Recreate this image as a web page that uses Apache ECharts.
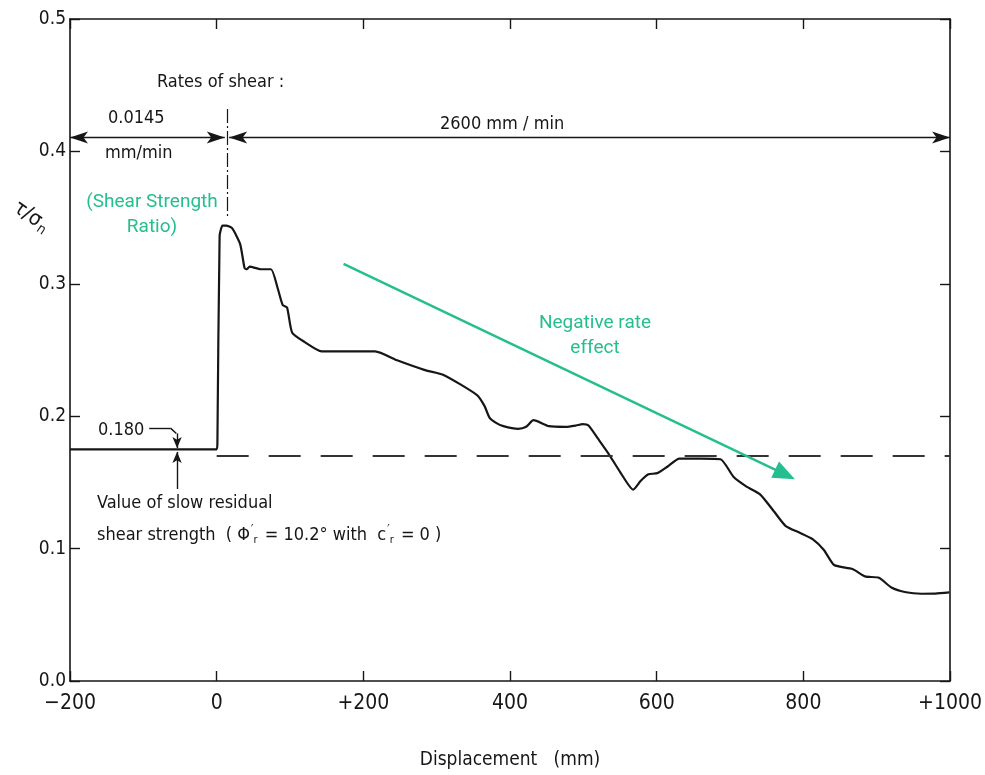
<!DOCTYPE html>
<html>
<head>
<meta charset="utf-8">
<script src="https://cdn.jsdelivr.net/npm/echarts@6/dist/echarts.min.js"></script>
<style>
  html, body { margin: 0; padding: 0; background: #fff; }
  #chart { width: 985px; height: 775px; }
</style>
</head>
<body>
<div id="chart"></div>
<script>
// displacement (mm) and shear strength ratio
const curveX = [-200, 0, 1, 4, 8, 13, 21, 32, 38, 41, 45, 60, 74, 83, 90, 96, 103, 120, 143, 180, 216, 247, 283, 310, 355, 365, 372, 381, 391, 411, 422, 432, 453, 476, 490, 499, 507, 520, 534, 550, 568, 578, 588, 601, 615, 631, 660, 687, 705, 722, 741, 760, 776, 795, 813, 828, 842, 867, 884, 903, 920, 940, 961, 980, 999];
const curveY = [0.175, 0.175, 0.18, 0.336, 0.344, 0.344, 0.342, 0.330, 0.312, 0.311, 0.313, 0.311, 0.311, 0.297, 0.284, 0.282, 0.263, 0.256, 0.249, 0.249, 0.249, 0.242, 0.235, 0.231, 0.216, 0.208, 0.199, 0.195, 0.1925, 0.1905, 0.192, 0.197, 0.1925, 0.192, 0.193, 0.194, 0.193, 0.183, 0.172, 0.158, 0.1445, 0.151, 0.156, 0.157, 0.162, 0.168, 0.168, 0.1675, 0.154, 0.147, 0.141, 0.128, 0.117, 0.112, 0.107, 0.099, 0.0876, 0.0846, 0.079, 0.078, 0.0706, 0.067, 0.0659, 0.066, 0.0669];

// slow residual strength, drawn dashed
const residualX = [0, 1000];
const residualY = [0.17, 0.17];

const xTickValues = [-200, 0, 200, 400, 600, 800, 1000];
const xTickLabels = ['\u2212200', '0', '+200', '400', '600', '800', '+1000'];
const yTickLabels = ['0.0', '0.1', '0.2', '0.3', '0.4', '0.5'];

const ink = '#161616';
const green = '#25BE8E';
const scanFont = "'Liberation Sans Narrow', 'DejaVu Sans Condensed', 'DejaVu Sans', sans-serif";
const greenFont = "Roboto, 'Noto Sans', sans-serif";

const chart = echarts.init(document.getElementById('chart'));

const axisBase = {
  type: 'value',
  axisLine: { show: true, onZero: false, lineStyle: { color: ink, width: 1.6 } },
  axisTick: { show: true, inside: true, length: 10, lineStyle: { color: ink, width: 1.4 } },
  splitLine: { show: false }
};

// thin annotation lines in data coordinates
const seg = (x1, y1, x2, y2, s1, s2, style, size) => [
  { coord: [x1, y1], symbol: s1, symbolSize: size, lineStyle: style },
  { coord: [x2, y2], symbol: s2, symbolSize: size }
];
const blackLine = { color: ink, width: 1.4, type: 'solid' };

const option = {
  animation: false,
  grid: { left: 70, right: 25, top: 19, bottom: 89 },
  xAxis: [
    Object.assign({}, axisBase, {
      min: -200, max: 1000, interval: 200,
      name: 'Displacement   (mm)',
      nameLocation: 'middle',
      nameGap: 70,
      nameTextStyle: { color: ink, fontSize: 19, fontFamily: scanFont },
      axisLabel: {
        color: ink, fontSize: 21, fontFamily: scanFont, margin: 12,
        formatter: v => xTickLabels[xTickValues.indexOf(v)] || ''
      }
    }),
    Object.assign({}, axisBase, {
      position: 'top', min: -200, max: 1000, interval: 200,
      axisLabel: { show: false }
    })
  ],
  yAxis: [
    Object.assign({}, axisBase, {
      min: 0, max: 0.5, interval: 0.1,
      axisLabel: {
        color: ink, fontSize: 19, fontFamily: scanFont, margin: 4,
        formatter: v => yTickLabels[Math.round(v * 10)]
      }
    }),
    Object.assign({}, axisBase, {
      position: 'right', min: 0, max: 0.5, interval: 0.1,
      axisLabel: { show: false }
    })
  ],
  series: [
    {
      type: 'line',
      data: curveX.map((x, i) => [x, curveY[i]]),
      showSymbol: false,
      smooth: 0.2,
      lineStyle: { color: ink, width: 2.2 },
      silent: true
    },
    {
      type: 'line',
      data: residualX.map((x, i) => [x, residualY[i]]),
      showSymbol: false,
      lineStyle: { color: '#333', width: 2, type: [32, 20] },
      silent: true
    },
    {
      type: 'line',
      data: [],
      silent: true,
      markLine: {
        silent: true,
        animation: false,
        label: { show: false },
        emphasis: { disabled: true },
        symbolSize: [9, 18],
        data: [
          seg(-200, 0.4105, 11, 0.4105, 'arrow', 'arrow', blackLine, [9, 18]),
          seg(17, 0.4105, 1000, 0.4105, 'arrow', 'arrow', blackLine, [9, 18]),
          seg(14, 0.432, 14, 0.351, 'none', 'none', { color: ink, width: 1.2, type: [14, 3, 2, 3] }, [9, 18]),
          seg(173, 0.315, 775, 0.156, 'none', 'triangle', { color: green, width: 2.4, type: 'solid' }, [18, 22]),
          seg(-92, 0.191, -63, 0.191, 'none', 'none', blackLine, [9, 18]),
          seg(-63, 0.191, -55, 0.187, 'none', 'none', blackLine, [9, 18]),
          seg(-54, 0.187, -54, 0.176, 'none', 'arrow', blackLine, [7, 11]),
          seg(-54, 0.145, -54, 0.173, 'none', 'arrow', blackLine, [7, 11])
        ]
      }
    }
  ],
  graphic: [
    { type: 'text', left: 157, top: 73, style: { text: 'Rates of shear :', fill: ink, font: '18px ' + scanFont } },
    { type: 'text', left: 108, top: 109, style: { text: '0.0145', fill: ink, font: '18px ' + scanFont } },
    { type: 'text', left: 105, top: 144, style: { text: 'mm/min', fill: ink, font: '18px ' + scanFont } },
    { type: 'text', left: 440, top: 115, style: { text: '2600 mm / min', fill: ink, font: '18px ' + scanFont } },
    { type: 'text', left: 98, top: 421, style: { text: '0.180', fill: ink, font: '18px ' + scanFont } },
    { type: 'text', left: 97, top: 494, style: { text: 'Value of slow residual', fill: ink, font: '18px ' + scanFont } },
    {
      type: 'text', left: 97, top: 524,
      style: {
        text: '{t|shear strength  ( \u03A6}{p|\u2032}{s|r}{t| = 10.2\u00B0 with  c}{p|\u2032}{s|r}{t| = 0 )}',
        rich: {
          t: { fill: ink, fontSize: 18, fontFamily: scanFont },
          p: { fill: ink, fontSize: 12, fontFamily: scanFont, padding: [0, 0, 10, 1] },
          s: { fill: ink, fontSize: 11, fontFamily: scanFont, padding: [10, 2, 0, 0] }
        }
      }
    },
    {
      type: 'text', x: 22, y: 196, rotation: -0.6,
      style: {
        text: '{a|\u03C4/\u03C3}{b|n}',
        rich: {
          a: { fill: ink, fontSize: 21, fontFamily: scanFont },
          b: { fill: ink, fontSize: 14, fontFamily: scanFont, padding: [10, 0, 0, 1] }
        }
      }
    },
    {
      type: 'text', x: 152, y: 190,
      style: { text: '(Shear Strength\nRatio)', fill: green, font: '19px ' + greenFont, align: 'center', lineHeight: 25 }
    },
    {
      type: 'text', x: 595, y: 311,
      style: { text: 'Negative rate\neffect', fill: green, font: '19px ' + greenFont, align: 'center', lineHeight: 25 }
    }
  ]
};

chart.setOption(option);
</script>
</body>
</html>
